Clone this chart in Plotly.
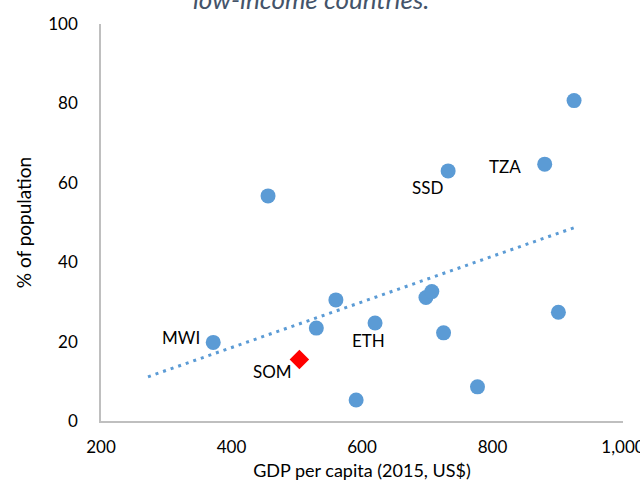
import numpy as np
import plotly.graph_objects as go

# ---- data ----
gdp = [372, 456, 530, 560, 591, 620, 698, 707, 725, 732, 777, 880, 901, 925]
pct = [19.8, 56.7, 23.4, 30.5, 5.3, 24.7, 31.1, 32.6, 22.2, 63.0, 8.6, 64.7, 27.4, 80.7]
codes = ["MWI", "", "", "", "", "ETH", "", "", "", "SSD", "", "TZA", "", ""]

som_gdp = [504]
som_pct = [15.5]
som_code = ["SOM"]

x_ticks = [200, 400, 600, 800, 1000]
x_ticktext = ["200", "400", "600", "800", "1,000"]
y_ticks = [0, 20, 40, 60, 80, 100]

backward_forecast = 100  # Excel trendline backward forecast

# ---- linear trend over all points (incl. SOM) ----
all_x = np.array(gdp + som_gdp, dtype=float)
all_y = np.array(pct + som_pct, dtype=float)
slope, intercept = np.polyfit(all_x, all_y, 1)
trend_x = np.array([all_x.min() - backward_forecast, all_x.max()])
trend_y = slope * trend_x + intercept

BLUE = "#5B9BD5"
FONT = "Lato, 'Open Sans', sans-serif"

fig = go.Figure()
fig.add_trace(go.Scatter(
    x=trend_x, y=trend_y, mode="lines",
    line=dict(color=BLUE, width=3, dash="3px,5px"),
    hoverinfo="skip", showlegend=False,
))
fig.add_trace(go.Scatter(
    x=gdp, y=pct, mode="markers",
    marker=dict(color=BLUE, size=15, line=dict(width=0)),
    showlegend=False, cliponaxis=False,
))
fig.add_trace(go.Scatter(
    x=som_gdp, y=som_pct, mode="markers",
    marker=dict(color="#FF0000", size=15, symbol="diamond", line=dict(width=0)),
    showlegend=False, cliponaxis=False,
))

# label placement relative to each point (pixels)
label_style = {
    "MWI": dict(xanchor="right", xshift=-11, yshift=5),
    "ETH": dict(xanchor="center", xshift=-7, yshift=-18),
    "SSD": dict(xanchor="right", xshift=-3, yshift=-17),
    "TZA": dict(xanchor="right", xshift=-22, yshift=-2),
    "SOM": dict(xanchor="right", xshift=-5, yshift=-12),
}
annotations = []
for xv, yv, c in list(zip(gdp, pct, codes)) + list(zip(som_gdp, som_pct, som_code)):
    if not c:
        continue
    st = label_style[c]
    annotations.append(dict(
        x=xv, y=yv, xref="x", yref="y", text=c, showarrow=False,
        xanchor=st["xanchor"], yanchor="middle",
        xshift=st["xshift"], yshift=st["yshift"],
        font=dict(family=FONT, size=17, color="#000000"),
    ))

annotations.append(dict(
    x=0.402, xref="paper", y=1, yref="paper", yanchor="bottom", yshift=7,
    text="<i>low-income countries.</i>", showarrow=False,
    font=dict(family=FONT, size=26, color="#44546A"),
))

fig.update_layout(
    width=640, height=487,
    margin=dict(l=101, r=17, t=24, b=66),
    paper_bgcolor="white", plot_bgcolor="white",
    font=dict(family=FONT, size=17, color="#000000"),
    annotations=annotations,
    xaxis=dict(
        range=[200, 1000], tickvals=x_ticks, ticktext=x_ticktext,
        showgrid=False, zeroline=False, showline=True,
        linecolor="#BFBFBF", linewidth=1.5, ticks="",
        ticklabelstandoff=10, ticklabeloverflow="allow", automargin=False,
        title=dict(text="GDP per capita (2015, US$)", standoff=8,
                   font=dict(family=FONT, size=18)),
    ),
    yaxis=dict(
        range=[0, 100], tickvals=y_ticks,
        showgrid=False, zeroline=False, showline=True,
        linecolor="#BFBFBF", linewidth=1.5, ticks="",
        ticklabelstandoff=18, ticklabeloverflow="allow", automargin=False,
        title=dict(text="% of population", standoff=12,
                   font=dict(family=FONT, size=19)),
    ),
)

fig.write_html(
    "out.html",
    config={"displayModeBar": False},
    post_script="document.body.style.margin='0';document.body.style.overflow='hidden';",
)
